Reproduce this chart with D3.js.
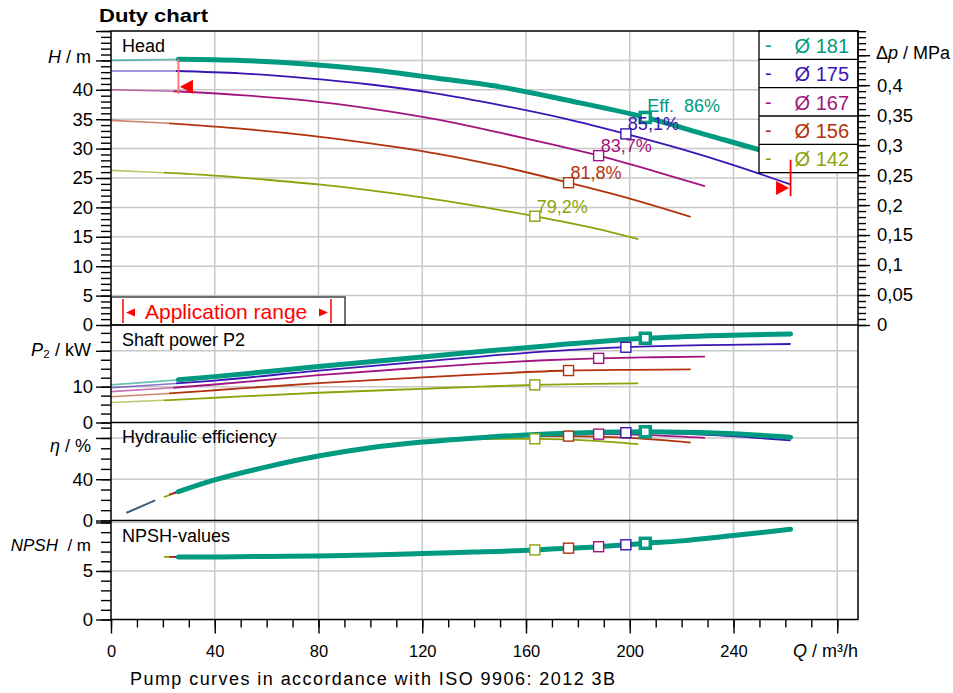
<!DOCTYPE html>
<html>
<head>
<meta charset="utf-8">
<script src="https://cdn.jsdelivr.net/npm/d3@7"></script>
<style>
  body { margin: 0; background: #fff; }
  text { font-family: "Liberation Sans", Arial, sans-serif; }
</style>
</head>
<body>
<svg id="chart" width="953" height="693"></svg>
<script>
// impeller diameters and their colours
const diameters = [181, 175, 167, 156, 142];
const colors = ["#009a80", "#3a14b4", "#a2147e", "#b2320c", "#8ca30a"];
const qMin = [26, 25, 24, 22.4, 20.4];          // start of allowed range, m3/h
const bepQ = [206, 198.5, 188, 176.4, 163.4];   // best efficiency point, m3/h
const effLabels = ["Eff.  86%", "85,1%", "83,7%", "81,8%", "79,2%"];
const effLowEnd = 17;

// Head H / m  [Q, H]
const head181 = [[0, 45.0], [26, 45.2], [50, 45.0], [75, 44.4], [100, 43.4], [125, 42.0], [150, 40.5], [175, 38.3], [206, 35.3], [230, 32.3], [250, 29.8], [262, 28.4]];
const head175 = [[0, 43.2], [25, 43.2], [50, 42.8], [75, 42.0], [100, 40.9], [125, 39.4], [150, 37.4], [175, 35.1], [198.5, 32.5], [220, 29.9], [240, 27.2], [262, 23.9]];
const head167 = [[0, 40.0], [24, 39.75], [50, 39.1], [75, 38.2], [100, 36.8], [125, 35.0], [150, 32.7], [170, 30.7], [188, 28.8], [210, 26.1], [229, 23.6]];
const head156 = [[0, 34.8], [22.4, 34.3], [50, 33.4], [75, 32.3], [100, 30.9], [125, 29.2], [150, 27.0], [176.4, 24.2], [200, 21.5], [223.5, 18.4]];
const head142 = [[0, 26.3], [20.4, 25.9], [40, 25.4], [60, 24.7], [80, 23.9], [100, 22.9], [120, 21.7], [140, 20.3], [163.4, 18.5], [185, 16.6], [203.3, 14.6]];

// Shaft power P2 / kW
const power181 = [[0, 10.5], [26, 11.9], [40, 12.8], [80, 15.6], [120, 18.3], [142.5, 19.8], [170, 21.5], [206, 23.5], [235, 24.3], [262, 24.7]];
const power175 = [[0, 9.7], [25, 10.9], [40, 11.7], [80, 14.5], [120, 17.0], [142.5, 18.4], [170, 19.9], [198.5, 21.0], [230, 21.6], [262, 21.9]];
const power167 = [[0, 8.6], [24, 9.7], [40, 10.6], [80, 13.2], [120, 15.3], [142.5, 16.4], [165, 17.3], [188, 17.9], [210, 18.2], [229, 18.4]];
const power156 = [[0, 7.2], [22.4, 8.1], [40, 9.0], [80, 11.0], [120, 12.6], [142.5, 13.4], [176.4, 14.5], [200, 14.7], [223.5, 14.8]];
const power142 = [[0, 5.6], [20.4, 6.2], [40, 6.9], [80, 8.3], [120, 9.4], [142.5, 10.0], [163.4, 10.5], [185, 10.8], [203.3, 10.9]];

// Hydraulic efficiency / %
const eff181 = [[6, 7.5], [17, 19.5], [26, 28], [40, 39.3], [60, 52], [80, 62.5], [100, 70.5], [120, 76], [142.5, 80.3], [170, 84], [206, 86], [235, 84.5], [262, 80.8]];
const eff175 = [[6, 7.5], [17, 19.5], [25, 27.2], [40, 39.3], [60, 52.2], [80, 62.8], [100, 70.8], [120, 76.3], [142.5, 80.5], [170, 84], [198.5, 85.1], [230, 83], [262, 77.7]];
const eff167 = [[6, 7.5], [17, 19.5], [24, 26.4], [40, 39.5], [60, 52.5], [80, 63], [100, 71], [120, 76.6], [142.5, 80.8], [165, 83], [188, 83.7], [210, 82.5], [229, 80]];
const eff156 = [[6, 7.5], [17, 19.5], [22.4, 25], [40, 39.7], [60, 52.7], [80, 63.2], [100, 71.2], [120, 77], [142.5, 80.6], [160, 81.5], [176.4, 81.8], [200, 80], [223.5, 75.5]];
const eff142 = [[6, 7.5], [17, 19.5], [20.4, 22.6], [40, 40], [60, 53], [80, 63.5], [100, 71.5], [120, 76.8], [142.5, 79], [163.4, 79.2], [185, 77.5], [203.3, 74]];

// NPSH / m
const npsh181 = [[26, 6.45], [40, 6.45], [60, 6.5], [80, 6.55], [100, 6.65], [120, 6.8], [140, 6.95], [163.4, 7.17], [176.4, 7.35], [188, 7.5], [198.5, 7.7], [206, 7.85], [220, 8.1], [240, 8.65], [262, 9.3]];
const npsh175 = [[25, 6.45], [40, 6.45], [60, 6.5], [80, 6.55], [100, 6.65], [120, 6.8], [140, 6.95], [163.4, 7.17], [176.4, 7.35], [188, 7.5], [198.5, 7.7], [220, 8.1], [240, 8.65], [262, 9.3]];
const npsh167 = [[24, 6.45], [40, 6.45], [60, 6.5], [80, 6.55], [100, 6.65], [120, 6.8], [140, 6.95], [163.4, 7.17], [176.4, 7.35], [188, 7.5], [210, 7.95], [229, 8.3]];
const npsh156 = [[22.4, 6.45], [40, 6.45], [60, 6.5], [80, 6.55], [100, 6.65], [120, 6.8], [140, 6.95], [163.4, 7.17], [176.4, 7.35], [200, 7.75], [223.5, 8.2]];
const npsh142 = [[20.4, 6.45], [40, 6.45], [60, 6.5], [80, 6.55], [100, 6.65], [120, 6.8], [140, 6.95], [163.4, 7.17], [185, 7.45], [203.3, 7.9]];

// ticks and grid
const qTicks = [0, 40, 80, 120, 160, 200, 240, 280];
const qMinor = d3.range(0, 290, 10);
const headTicks = [0, 5, 10, 15, 20, 25, 30, 35, 40, 45, 50];
const headMinor = d3.range(0, 51, 1);
const dpTicks = [0, 0.05, 0.1, 0.15, 0.2, 0.25, 0.3, 0.35, 0.4, 0.45];
const dpMinor = d3.range(0, 0.4905, 0.01);
const powerTicks = [0, 10, 20];
const powerMinor = [0, 2.5, 5, 7.5, 10, 12.5, 15, 17.5, 20, 22.5, 25];
const effTicks = [0, 40, 80];
const effMinor = [0, 10, 20, 30, 40, 50, 60, 70, 80, 90];
const npshTicks = [0, 5, 10];
const npshMinor = d3.range(0, 10.1, 1);
const headGrid = [5, 10, 15, 20, 25, 30, 35, 40, 45];
const powerGrid = [10, 20];
const effGrid = [40, 80];
const npshGrid = [5, 10];
// marks of the application range in the head panel [Q, H top, H bottom, H of triangle]
const rangeLeft = [26, 45.2, 39.3, 40.5];
const rangeRight = [262, 28.1, 21.9, 23.3];

const svg = d3.select("#chart");
const pLeft = 111, pRight = 858, pTop = 31, pBottom = 619.5;

var x = d3.scaleLinear().domain([0, 288]).range([pLeft, pRight]);
var yH = d3.scaleLinear().domain([0, 50]).range([325, pTop]);
var yDp = d3.scaleLinear().domain([0, 50 / 101.97]).range([325, pTop]);
var yP = d3.scaleLinear().domain([0, 27.2]).range([422.5, 325]);
var yE = d3.scaleLinear().domain([0, 95]).range([520.5, 422.5]);
var yN = d3.scaleLinear().domain([0, 10.2]).range([pBottom, 520.5]);

const series = diameters.map((d, i) => ({
  d: d, color: colors[i], qMin: qMin[i], bep: bepQ[i], label: effLabels[i],
  head: [head181, head175, head167, head156, head142][i],
  power: [power181, power175, power167, power156, power142][i],
  eff: [eff181, eff175, eff167, eff156, eff142][i],
  npsh: [npsh181, npsh175, npsh167, npsh156, npsh142][i]
}));

svg.append("rect").attr("width", 953).attr("height", 693).attr("fill", "#fff");

// grid
var grid = svg.append("g").attr("stroke", "#c8c8c8").attr("stroke-width", 1.5);
grid.selectAll(".vg").data(qTicks.slice(1)).enter().append("line")
  .attr("x1", d => x(d)).attr("x2", d => x(d)).attr("y1", pTop).attr("y2", pBottom);
[[yH, headGrid], [yP, powerGrid], [yE, effGrid], [yN, npshGrid]].forEach(function (p) {
  grid.selectAll(null).data(p[1]).enter().append("line")
    .attr("x1", pLeft).attr("x2", pRight)
    .attr("y1", d => p[0](d)).attr("y2", d => p[0](d));
});

// curves
function drawCurves(y, key) {
  var g = svg.append("g").attr("fill", "none");
  series.slice().reverse().forEach(function (s) {
    var bold = s.d === 181;
    var pts = s[key];
    var line = d3.line().x(p => x(p[0])).y(p => y(p[1])).curve(d3.curveMonotoneX);
    var lowEnd = key === "eff" ? effLowEnd : s.qMin;
    var low = pts.filter(p => p[0] <= lowEnd);
    var main = pts.filter(p => p[0] >= s.qMin);
    if (low.length > 1) {
      g.append("path").attr("d", line(low))
        .attr("stroke", s.color).attr("stroke-width", 1.6).attr("opacity", 0.6);
    }
    g.append("path").attr("d", line(main))
      .attr("stroke", s.color).attr("stroke-width", bold ? 5 : 1.8)
      .attr("stroke-linecap", bold ? "round" : "butt");
  });
  // markers at best efficiency point
  series.slice().reverse().forEach(function (s) {
    var bold = s.d === 181;
    var p = s[key].find(p => p[0] === s.bep);
    var size = 10;
    g.append("rect")
      .attr("x", x(p[0]) - size / 2).attr("y", y(p[1]) - size / 2)
      .attr("width", size).attr("height", size)
      .attr("fill", "#fff").attr("stroke", s.color)
      .attr("stroke-width", bold ? 3.5 : 1.4);
  });
  return g;
}

drawCurves(yH, "head");
drawCurves(yP, "power");
drawCurves(yE, "eff");
drawCurves(yN, "npsh");

// efficiency labels on the head curves
svg.append("g").selectAll("text").data(series).enter().append("text")
  .attr("x", s => x(s.bep) + 2)
  .attr("y", s => yH(s.head.find(p => p[0] === s.bep)[1]) - (s.d === 181 ? 5.5 : 3.5))
  .attr("fill", s => s.color)
  .attr("font-size", 18)
  .style("white-space", "pre")
  .text(s => s.label);

// legend
var legend = svg.append("g");
var rowH = 28.33;
legend.append("rect").attr("x", 759).attr("y", pTop).attr("width", pRight - 759).attr("height", rowH * 5)
  .attr("fill", "#fff").attr("stroke", "#000").attr("stroke-width", 1.3);
series.forEach(function (s, i) {
  var ry = pTop + i * rowH;
  if (i > 0) legend.append("line").attr("x1", 759).attr("x2", pRight).attr("y1", ry).attr("y2", ry)
    .attr("stroke", "#000").attr("stroke-width", 1.3);
  legend.append("text").attr("x", 765).attr("y", ry + 21).attr("fill", s.color)
    .attr("font-size", 20).text("-");
  legend.append("text").attr("x", 849).attr("y", ry + 22).attr("fill", s.color)
    .attr("font-size", 20).attr("text-anchor", "end").text("Ø " + s.d);
});

// application range marks in head panel (drawn over the legend)
[[rangeLeft, 1], [rangeRight, -1]].forEach(function (r) {
  var m = r[0], dir = r[1];
  var xm = x(m[0]);
  svg.append("line").attr("x1", xm).attr("x2", xm)
    .attr("y1", yH(m[1])).attr("y2", yH(m[2]))
    .attr("stroke", dir > 0 ? "#ff6e6e" : "#ff0000").attr("stroke-width", 1.8);
  var yc = yH(m[3]);
  svg.append("path")
    .attr("d", "M" + (xm + dir * 1.5) + "," + yc + "L" + (xm + dir * 14.5) + "," + (yc - 7) + "L" + (xm + dir * 14.5) + "," + (yc + 7) + "Z")
    .attr("fill", "#ff0000");
});

// application range box
var app = svg.append("g");
app.append("rect").attr("x", pLeft).attr("y", 297).attr("width", 234).attr("height", 325 - 297)
  .attr("fill", "#fff").attr("stroke", "#444").attr("stroke-width", 1.5);
app.append("line").attr("x1", 123).attr("x2", 123).attr("y1", 299).attr("y2", 323).attr("stroke", "#f00").attr("stroke-width", 1.5);
app.append("line").attr("x1", 331).attr("x2", 331).attr("y1", 299).attr("y2", 323).attr("stroke", "#f00").attr("stroke-width", 1.5);
app.append("path").attr("d", "M126,312.5L135,308.5L135,316.5Z").attr("fill", "#f00");
app.append("path").attr("d", "M328,312.5L319,308.5L319,316.5Z").attr("fill", "#f00");
app.append("text").attr("x", 145).attr("y", 318.5).attr("fill", "#f00").attr("font-size", 21).text("Application range");

// panel frames
var frame = svg.append("g").attr("stroke", "#000").attr("stroke-width", 1.5).attr("fill", "none");
frame.append("rect").attr("x", pLeft).attr("y", pTop).attr("width", pRight - pLeft).attr("height", pBottom - pTop);
[325, 422.5, 520.5].forEach(function (yy) {
  frame.append("line").attr("x1", pLeft).attr("x2", pRight).attr("y1", yy).attr("y2", yy);
});

// axes
function styleAxis(g) {
  g.select(".domain").remove();
  g.selectAll(".tick line").attr("stroke", "#000").attr("stroke-width", 1.4);
  g.selectAll("text").attr("font-size", 18.5).attr("fill", "#000")
    .attr("font-family", "'Liberation Sans', Arial, sans-serif");
}

function leftAxis(y, major, minor, labels) {
  svg.append("g").attr("transform", "translate(" + pLeft + ",0)")
    .call(d3.axisLeft(y).tickValues(minor).tickSize(10).tickFormat(""))
    .call(styleAxis);
  svg.append("g").attr("transform", "translate(" + pLeft + ",0)")
    .call(d3.axisLeft(y).tickValues(major).tickSize(15).tickPadding(3)
      .tickFormat(d => labels.indexOf(d) >= 0 ? String(d) : ""))
    .call(styleAxis);
}

leftAxis(yH, headTicks, headMinor, [0, 5, 10, 15, 20, 25, 30, 35, 40]);
leftAxis(yP, powerTicks, powerMinor, [0, 10]);
leftAxis(yE, effTicks, effMinor, [0, 40]);
leftAxis(yN, npshTicks, npshMinor, [0, 5]);

// right pressure axis
svg.append("g").attr("transform", "translate(" + pRight + ",0)")
  .call(d3.axisRight(yDp).tickValues(dpMinor).tickSize(8).tickFormat(""))
  .call(styleAxis);
svg.append("g").attr("transform", "translate(" + pRight + ",0)")
  .call(d3.axisRight(yDp).tickValues(dpTicks).tickSize(12).tickPadding(7)
    .tickFormat(d => d > 0.42 ? "" : d === 0 ? "0" : d3.format(".2~f")(d).replace(".", ",")))
  .call(styleAxis);

// bottom Q axis
svg.append("g").attr("transform", "translate(0," + pBottom + ")")
  .call(d3.axisBottom(x).tickValues(qMinor).tickSize(8).tickFormat(""))
  .call(styleAxis);
svg.append("g").attr("transform", "translate(0," + pBottom + ")")
  .call(d3.axisBottom(x).tickValues(qTicks).tickSize(14).tickPadding(12)
    .tickFormat(d => d === 280 ? "" : String(d)))
  .call(styleAxis)
  .selectAll("text").attr("font-size", 16.5).attr("font-family", "'DejaVu Sans', Verdana, sans-serif");

// panel titles
[["Head", 52], ["Shaft power P2", 346], ["Hydraulic efficiency", 443], ["NPSH-values", 541.5]].forEach(function (t) {
  svg.append("text").attr("x", 122).attr("y", t[1]).attr("font-size", 18).text(t[0]);
});

// axis names
function axisName(xp, yp, anchor, parts, size) {
  var t = svg.append("text").attr("x", xp).attr("y", yp).attr("text-anchor", anchor)
    .attr("font-size", size || 18).style("white-space", "pre");
  parts.forEach(function (p) {
    t.append("tspan").attr("font-style", p[1] ? "italic" : "normal").text(p[0]);
  });
}
axisName(91, 63, "end", [["H", 1], [" / m", 0]]);
axisName(91, 356, "end", [["P", 1], ["₂ / kW", 0]]);
axisName(91, 452, "end", [["η", 1], [" / %", 0]]);
axisName(91, 551, "end", [["NPSH", 1], ["  / m", 0]], 17);
axisName(876, 59, "start", [["Δ", 0], ["p", 1], [" / MPa", 0]]);
axisName(858, 657, "end", [["Q", 1], [" / m³/h", 0]]);

// headings
svg.append("text").attr("x", 99).attr("y", 21.5)
  .attr("font-family", "'DejaVu Sans', Verdana, sans-serif").attr("font-weight", "bold")
  .attr("font-size", 19).attr("textLength", 109).attr("lengthAdjust", "spacingAndGlyphs")
  .text("Duty chart");

// footer: fit the font to the width seen in the picture
var foot = svg.append("text").attr("x", 130).attr("y", 684.5)
  .attr("font-family", "'DejaVu Sans', Verdana, sans-serif")
  .attr("font-size", 16).text("Pump curves in accordance with ISO 9906: 2012 3B");
var fs = Math.min(18, 16 * 485 / foot.node().getComputedTextLength());
foot.attr("font-size", fs);
if (foot.node().getComputedTextLength() < 480) {
  foot.attr("textLength", 485).attr("lengthAdjust", "spacing");
}
</script>
</body>
</html>
